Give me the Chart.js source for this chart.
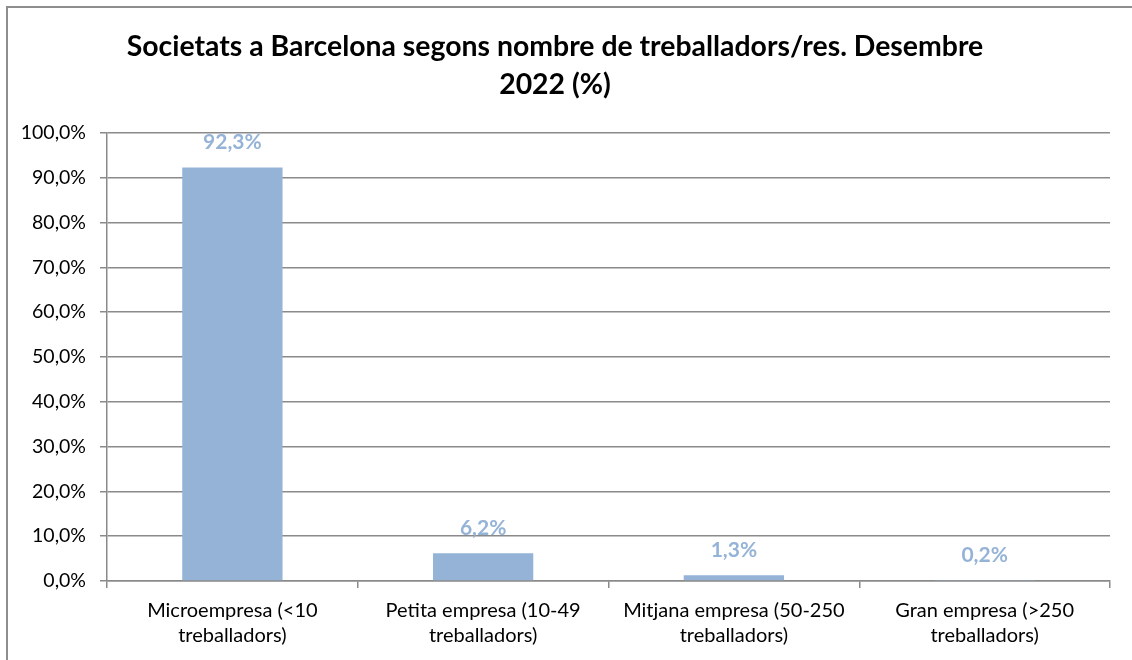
<!DOCTYPE html>
<html>
<head>
<meta charset="utf-8">
<script src="https://cdn.jsdelivr.net/npm/chart.js@4.4.1/dist/chart.umd.min.js"></script>
<style>
html,body{margin:0;padding:0;background:#fff;}
#wrap{width:1132px;height:660px;position:relative;}
</style>
</head>
<body>
<div id="wrap"><canvas id="c" width="1132" height="660"></canvas></div>
<script>
const categories = [
  ["Microempresa (<10", "treballadors)"],
  ["Petita empresa (10-49", "treballadors)"],
  ["Mitjana empresa (50-250", "treballadors)"],
  ["Gran empresa (>250", "treballadors)"]
];
const values = [92.3, 6.2, 1.3, 0.2];
const titleLines = ["Societats a Barcelona segons nombre de treballadors/res. Desembre", "2022 (%)"];
const yMin = 0, yMax = 100, yStep = 10;

const FONT = "Lato, 'Open Sans', sans-serif";
const BAR = "#95B3D7";
const GRID = "#8a8a8a";

function fmt(v){ return v.toFixed(1).replace('.', ',') + '%'; }

// fit title size to reference width
const mctx = document.createElement('canvas').getContext('2d');
mctx.font = "bold 100px " + FONT;
let titleSize = Math.round(100 * 858 / mctx.measureText(titleLines[0]).width * 10) / 10;

const framePlugin = {
  id: 'frame',
  beforeDraw(chart){
    const ctx = chart.ctx;
    ctx.save();
    ctx.fillStyle = '#fff';
    ctx.fillRect(0,0,chart.width,chart.height);
    ctx.fillStyle = '#8e8e8e';
    ctx.fillRect(6, 6, chart.width - 6, 2);
    ctx.fillRect(6, 6, 2, chart.height - 6);
    ctx.restore();
  }
};

const labelPlugin = {
  id: 'barLabels',
  afterDatasetsDraw(chart){
    const ctx = chart.ctx;
    const meta = chart.getDatasetMeta(0);
    ctx.save();
    ctx.fillStyle = BAR;
    ctx.font = "bold 21px " + FONT;
    ctx.textAlign = 'center';
    ctx.textBaseline = 'alphabetic';
    meta.data.forEach((el, i) => {
      ctx.fillText(fmt(chart.data.datasets[0].data[i]), el.x, el.y - 18);
    });
    ctx.restore();
  }
};

new Chart(document.getElementById('c'), {
  type: 'bar',
  data: {
    labels: categories,
    datasets: [{
      data: values,
      backgroundColor: BAR,
      borderWidth: 0,
      categoryPercentage: 1,
      barPercentage: 0.4
    }]
  },
  options: {
    responsive: false,
    animation: false,
    devicePixelRatio: 1,
    layout: { padding: { left: 0, right: 22, top: 0, bottom: 0 } },
    plugins: {
      legend: { display: false },
      tooltip: { enabled: false },
      title: {
        display: true,
        text: titleLines,
        color: '#000',
        font: { family: FONT, size: titleSize, weight: 'bold', lineHeight: 38/ titleSize },
        padding: { top: 28, bottom: 29 }
      }
    },
    scales: {
      x: {
        grid: { display: true, offset: true, drawOnChartArea: false, drawTicks: true, tickLength: 7, color: GRID, lineWidth: 1.5 },
        border: { display: true, color: GRID, width: 1.5 },
        ticks: { color: '#000', font: { family: FONT, size: 20, lineHeight: 25/20 }, padding: 10, maxRotation: 0, autoSkip: false },
        afterFit(s){ s.height = 79; }
      },
      y: {
        min: yMin, max: yMax,
        grid: { color: GRID, lineWidth: 1.5, tickLength: 7, drawTicks: true },
        border: { display: true, color: GRID, width: 1.5 },
        ticks: { stepSize: yStep, color: '#000', font: { family: FONT, size: 19.5 }, padding: 14, callback: v => fmt(v) },
        afterFit(s){ s.width = 107; }
      }
    }
  },
  plugins: [framePlugin, labelPlugin]
});
</script>
</body>
</html>
